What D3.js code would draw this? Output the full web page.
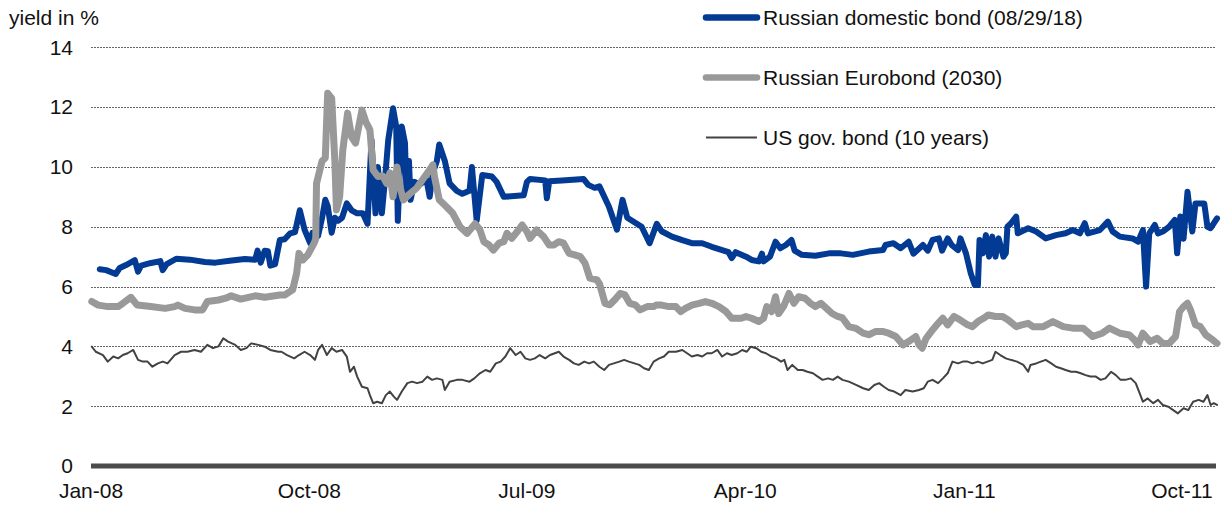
<!DOCTYPE html>
<html>
<head>
<meta charset="utf-8">
<script src="https://cdn.jsdelivr.net/npm/d3@7"></script>
<style>
  body { margin: 0; background: #fff; }
  svg { display: block; font-family: "Liberation Sans", Arial, sans-serif; }
</style>
</head>
<body>
<svg id="chart" width="1230" height="505"></svg>
<script>
// Russian domestic bond (08/29/18), yield in %
var domesticBond = [
  ["2008-01-12",6.58],["2008-01-20",6.55],["2008-02-01",6.42],["2008-02-06",6.62],["2008-02-14",6.72],
  ["2008-02-25",6.88],["2008-02-29",6.50],["2008-03-04",6.70],["2008-03-15",6.78],["2008-03-28",6.85],
  ["2008-03-31",6.55],["2008-04-05",6.75],["2008-04-17",6.93],["2008-05-04",6.90],["2008-05-23",6.82],
  ["2008-06-05",6.80],["2008-06-23",6.86],["2008-07-12",6.92],["2008-07-25",6.90],["2008-07-28",7.20],
  ["2008-08-01",6.80],["2008-08-06",7.20],["2008-08-10",7.18],["2008-08-13",6.70],["2008-08-19",6.75],
  ["2008-08-25",7.56],["2008-08-31",7.58],["2008-09-07",7.78],["2008-09-13",7.82],["2008-09-19",8.55],
  ["2008-09-25",7.90],["2008-10-02",7.45],["2008-10-05",7.80],["2008-10-12",7.70],["2008-10-17",8.30],
  ["2008-10-21",8.90],["2008-10-24",8.70],["2008-10-29",7.80],["2008-11-02",8.30],["2008-11-06",8.20],
  ["2008-11-11",8.30],["2008-11-17",8.78],["2008-11-23",8.55],["2008-11-30",8.45],["2008-12-07",8.45],
  ["2008-12-13",8.10],["2008-12-18",10.90],["2008-12-23",8.45],["2008-12-26",10.00],["2008-12-31",8.45],
  ["2009-01-04",9.60],["2009-01-08",10.90],["2009-01-14",11.96],["2009-01-18",11.35],["2009-01-20",8.20],
  ["2009-01-25",11.35],["2009-01-29",10.80],["2009-01-31",9.00],["2009-02-03",10.20],["2009-02-05",8.90],
  ["2009-02-10",9.50],["2009-02-16",9.40],["2009-02-25",9.57],["2009-03-01",9.00],["2009-03-05",9.80],
  ["2009-03-10",10.20],["2009-03-13",10.75],["2009-03-20",10.20],["2009-03-26",9.45],["2009-04-04",9.20],
  ["2009-04-11",9.10],["2009-04-20",9.20],["2009-04-23",10.00],["2009-04-29",8.20],["2009-05-06",9.73],
  ["2009-05-18",9.68],["2009-05-24",9.50],["2009-06-02",9.00],["2009-06-27",9.05],["2009-07-01",9.50],
  ["2009-07-05",9.60],["2009-07-24",9.55],["2009-07-26",8.95],["2009-07-29",9.52],["2009-08-14",9.55],
  ["2009-09-10",9.60],["2009-09-16",9.40],["2009-09-24",9.30],["2009-09-30",9.35],["2009-10-12",8.67],
  ["2009-10-22",7.90],["2009-10-29",8.90],["2009-11-04",8.30],["2009-11-22",8.00],["2009-12-02",7.45],
  ["2009-12-11",8.10],["2009-12-17",7.85],["2009-12-30",7.67],["2010-01-12",7.55],["2010-01-24",7.45],
  ["2010-02-06",7.45],["2010-02-18",7.33],["2010-03-03",7.22],["2010-03-11",7.15],["2010-03-15",6.95],
  ["2010-03-20",7.15],["2010-04-02",7.00],["2010-04-09",6.89],["2010-04-18",6.84],["2010-04-22",7.10],
  ["2010-04-24",6.84],["2010-05-02",7.00],["2010-05-09",7.50],["2010-05-15",7.28],["2010-05-22",7.39],
  ["2010-05-29",7.56],["2010-06-02",7.20],["2010-06-11",7.06],["2010-06-28",7.03],["2010-07-15",7.11],
  ["2010-07-30",7.11],["2010-08-14",7.06],["2010-09-03",7.17],["2010-09-21",7.22],["2010-09-24",7.39],
  ["2010-10-04",7.45],["2010-10-13",7.28],["2010-10-23",7.50],["2010-10-29",7.10],["2010-11-10",7.39],
  ["2010-11-16",7.20],["2010-11-22",7.56],["2010-11-30",7.61],["2010-12-04",7.20],["2010-12-11",7.61],
  ["2010-12-16",7.39],["2010-12-24",7.22],["2010-12-27",7.61],["2011-01-03",7.11],["2011-01-09",6.44],
  ["2011-01-14",6.05],["2011-01-18",6.05],["2011-01-20",7.56],["2011-01-24",7.11],["2011-01-28",7.72],
  ["2011-02-01",7.00],["2011-02-05",7.67],["2011-02-09",7.00],["2011-02-13",7.61],["2011-02-19",7.00],
  ["2011-02-22",7.11],["2011-02-24",8.00],["2011-02-28",8.10],["2011-03-07",8.34],["2011-03-09",7.78],
  ["2011-03-22",7.95],["2011-04-01",7.84],["2011-04-13",7.61],["2011-04-26",7.72],["2011-05-08",7.78],
  ["2011-05-17",7.89],["2011-05-26",7.78],["2011-06-01",8.12],["2011-06-05",7.78],["2011-06-20",7.89],
  ["2011-06-30",8.17],["2011-07-06",7.84],["2011-07-15",7.67],["2011-07-31",7.61],["2011-08-07",7.50],
  ["2011-08-13",7.89],["2011-08-17",6.00],["2011-08-21",7.78],["2011-08-28",8.06],["2011-09-01",7.78],
  ["2011-09-07",7.84],["2011-09-15",8.00],["2011-09-22",8.23],["2011-09-25",7.11],["2011-09-29",8.34],
  ["2011-10-03",7.60],["2011-10-08",9.17],["2011-10-14",7.84],["2011-10-18",8.78],["2011-10-29",8.78],
  ["2011-11-02",8.00],["2011-11-06",7.95],["2011-11-14",8.28]
];

// Russian Eurobond (2030)
var eurobond = [
  ["2008-01-02",5.50],["2008-01-10",5.38],["2008-01-22",5.33],["2008-02-04",5.33],["2008-02-10",5.44],
  ["2008-02-20",5.64],["2008-02-28",5.38],["2008-03-16",5.33],["2008-04-03",5.27],["2008-04-15",5.33],
  ["2008-04-19",5.38],["2008-04-28",5.27],["2008-05-10",5.22],["2008-05-20",5.22],["2008-05-26",5.50],
  ["2008-06-09",5.55],["2008-06-18",5.61],["2008-06-25",5.69],["2008-07-07",5.58],["2008-07-25",5.69],
  ["2008-08-06",5.64],["2008-08-25",5.72],["2008-08-31",5.72],["2008-09-10",5.89],["2008-09-15",6.44],
  ["2008-09-18",7.11],["2008-09-23",6.89],["2008-09-29",7.06],["2008-10-07",7.45],["2008-10-09",7.60],
  ["2008-10-10",9.45],["2008-10-17",10.20],["2008-10-21",10.30],["2008-10-24",12.46],["2008-10-29",12.30],
  ["2008-11-02",10.20],["2008-11-04",8.56],["2008-11-08",9.00],["2008-11-12",10.57],["2008-11-18",11.80],
  ["2008-11-23",11.00],["2008-11-28",10.80],["2008-12-06",11.90],["2008-12-11",11.50],["2008-12-16",11.24],
  ["2008-12-20",9.90],["2008-12-26",9.68],["2009-01-01",9.70],["2009-01-06",9.45],["2009-01-10",9.80],
  ["2009-01-14",9.00],["2009-01-19",10.00],["2009-01-23",9.30],["2009-01-27",8.90],["2009-02-04",9.10],
  ["2009-02-13",9.30],["2009-02-20",9.57],["2009-03-01",9.90],["2009-03-05",10.07],["2009-03-07",9.68],
  ["2009-03-13",8.90],["2009-03-22",8.67],["2009-03-30",8.45],["2009-04-08",8.00],["2009-04-17",7.78],
  ["2009-04-27",8.10],["2009-05-03",7.90],["2009-05-08",7.50],["2009-05-14",7.40],["2009-05-20",7.22],
  ["2009-05-27",7.45],["2009-06-02",7.50],["2009-06-06",7.78],["2009-06-12",7.61],["2009-06-19",7.84],
  ["2009-06-25",8.06],["2009-07-01",7.84],["2009-07-05",7.61],["2009-07-13",7.89],["2009-07-22",7.67],
  ["2009-07-29",7.39],["2009-08-04",7.39],["2009-08-10",7.50],["2009-08-16",7.45],["2009-08-23",7.11],
  ["2009-08-30",7.06],["2009-09-06",7.00],["2009-09-12",6.78],["2009-09-18",6.28],["2009-09-27",6.22],
  ["2009-09-30",6.10],["2009-10-07",5.44],["2009-10-13",5.39],["2009-10-19",5.55],["2009-10-26",5.77],
  ["2009-11-01",5.72],["2009-11-07",5.44],["2009-11-14",5.39],["2009-11-20",5.22],["2009-11-29",5.33],
  ["2009-12-07",5.33],["2009-12-10",5.38],["2009-12-17",5.38],["2009-12-26",5.33],["2010-01-04",5.33],
  ["2010-01-10",5.16],["2010-01-16",5.27],["2010-01-24",5.38],["2010-02-02",5.44],["2010-02-10",5.50],
  ["2010-02-18",5.44],["2010-02-27",5.33],["2010-03-08",5.16],["2010-03-15",4.94],["2010-03-27",4.94],
  ["2010-04-02",5.00],["2010-04-09",4.94],["2010-04-18",4.83],["2010-04-24",4.94],["2010-04-28",5.33],
  ["2010-05-04",5.16],["2010-05-09",5.66],["2010-05-13",5.10],["2010-05-19",5.33],["2010-05-26",5.77],
  ["2010-06-01",5.44],["2010-06-07",5.66],["2010-06-15",5.61],["2010-06-22",5.44],["2010-06-28",5.33],
  ["2010-07-05",5.44],["2010-07-12",5.27],["2010-07-19",5.10],["2010-07-26",5.00],["2010-08-01",4.95],
  ["2010-08-09",4.66],["2010-08-18",4.60],["2010-08-27",4.44],["2010-09-03",4.39],["2010-09-12",4.50],
  ["2010-09-20",4.50],["2010-09-28",4.44],["2010-10-07",4.33],["2010-10-16",4.05],["2010-10-23",4.16],
  ["2010-11-01",4.33],["2010-11-05",4.05],["2010-11-09",3.94],["2010-11-14",4.27],["2010-11-22",4.55],
  ["2010-11-29",4.77],["2010-12-05",4.94],["2010-12-11",4.72],["2010-12-19",5.00],["2010-12-27",4.88],
  ["2011-01-05",4.72],["2011-01-11",4.66],["2011-01-18",4.83],["2011-01-25",4.94],["2011-01-31",5.05],
  ["2011-02-09",5.00],["2011-02-18",5.00],["2011-02-25",4.88],["2011-03-07",4.66],["2011-03-14",4.72],
  ["2011-03-22",4.77],["2011-03-28",4.66],["2011-04-10",4.66],["2011-04-22",4.83],["2011-05-05",4.66],
  ["2011-05-17",4.61],["2011-05-30",4.61],["2011-06-11",4.33],["2011-06-23",4.44],["2011-07-02",4.61],
  ["2011-07-15",4.44],["2011-07-27",4.38],["2011-08-03",4.20],["2011-08-07",4.05],["2011-08-13",4.44],
  ["2011-08-22",4.16],["2011-08-31",4.27],["2011-09-07",4.10],["2011-09-15",4.10],["2011-09-23",4.33],
  ["2011-09-28",5.16],["2011-10-03",5.33],["2011-10-08",5.44],["2011-10-12",5.20],["2011-10-18",4.72],
  ["2011-10-24",4.66],["2011-10-31",4.38],["2011-11-06",4.27],["2011-11-14",4.10]
];

// US gov. bond (10 years)
var usBond = [
  ["2008-01-02",3.99],["2008-01-07",3.82],["2008-01-16",3.71],["2008-01-22",3.49],["2008-01-29",3.66],
  ["2008-02-04",3.60],["2008-02-10",3.71],["2008-02-16",3.77],["2008-02-23",3.88],["2008-02-29",3.55],
  ["2008-03-06",3.49],["2008-03-12",3.49],["2008-03-18",3.32],["2008-03-25",3.43],["2008-03-31",3.49],
  ["2008-04-06",3.43],["2008-04-15",3.71],["2008-04-23",3.82],["2008-05-01",3.82],["2008-05-10",3.88],
  ["2008-05-18",3.82],["2008-05-26",4.05],["2008-06-02",3.94],["2008-06-09",4.00],["2008-06-15",4.27],
  ["2008-06-21",4.16],["2008-06-30",4.05],["2008-07-07",3.88],["2008-07-14",3.94],["2008-07-20",4.10],
  ["2008-07-29",4.05],["2008-08-06",3.99],["2008-08-13",3.88],["2008-08-23",3.82],["2008-08-27",3.82],
  ["2008-09-03",3.71],["2008-09-12",3.60],["2008-09-18",3.71],["2008-09-25",3.82],["2008-10-02",3.71],
  ["2008-10-08",3.55],["2008-10-12",3.88],["2008-10-17",4.05],["2008-10-23",3.71],["2008-10-29",3.94],
  ["2008-11-04",3.82],["2008-11-11",3.88],["2008-11-17",3.66],["2008-11-21",3.15],["2008-11-26",3.32],
  ["2008-11-30",2.99],["2008-12-06",2.65],["2008-12-13",2.60],["2008-12-16",2.37],["2008-12-20",2.10],
  ["2008-12-25",2.15],["2008-12-31",2.10],["2009-01-05",2.37],["2009-01-10",2.49],["2009-01-15",2.32],
  ["2009-01-19",2.21],["2009-01-25",2.49],["2009-02-01",2.77],["2009-02-07",2.82],["2009-02-13",2.77],
  ["2009-02-20",2.82],["2009-02-26",2.99],["2009-03-04",2.88],["2009-03-10",2.93],["2009-03-17",2.88],
  ["2009-03-20",2.54],["2009-03-26",2.82],["2009-04-04",2.88],["2009-04-11",2.88],["2009-04-20",2.82],
  ["2009-04-26",2.93],["2009-05-03",3.10],["2009-05-10",3.21],["2009-05-16",3.15],["2009-05-23",3.43],
  ["2009-05-29",3.49],["2009-06-04",3.66],["2009-06-10",3.94],["2009-06-17",3.71],["2009-06-23",3.82],
  ["2009-06-29",3.60],["2009-07-05",3.55],["2009-07-11",3.60],["2009-07-17",3.71],["2009-07-24",3.60],
  ["2009-07-30",3.71],["2009-08-05",3.77],["2009-08-10",3.82],["2009-08-16",3.66],["2009-08-23",3.55],
  ["2009-08-29",3.43],["2009-09-04",3.38],["2009-09-11",3.49],["2009-09-17",3.43],["2009-09-23",3.49],
  ["2009-09-30",3.32],["2009-10-06",3.21],["2009-10-12",3.38],["2009-10-18",3.43],["2009-10-25",3.49],
  ["2009-10-31",3.55],["2009-11-06",3.49],["2009-11-13",3.43],["2009-11-19",3.38],["2009-11-25",3.27],
  ["2009-12-01",3.21],["2009-12-07",3.49],["2009-12-14",3.60],["2009-12-20",3.66],["2009-12-26",3.82],
  ["2010-01-04",3.82],["2010-01-12",3.88],["2010-01-18",3.77],["2010-01-24",3.66],["2010-01-31",3.71],
  ["2010-02-06",3.66],["2010-02-12",3.77],["2010-02-18",3.77],["2010-02-25",3.88],["2010-03-03",3.66],
  ["2010-03-09",3.77],["2010-03-15",3.71],["2010-03-22",3.77],["2010-03-28",3.88],["2010-04-03",3.82],
  ["2010-04-08",3.99],["2010-04-15",3.94],["2010-04-21",3.82],["2010-04-27",3.77],["2010-05-04",3.66],
  ["2010-05-10",3.60],["2010-05-16",3.49],["2010-05-20",3.55],["2010-05-24",3.21],["2010-05-30",3.38],
  ["2010-06-06",3.21],["2010-06-12",3.21],["2010-06-18",3.15],["2010-06-25",3.10],["2010-07-01",2.99],
  ["2010-07-07",2.88],["2010-07-14",2.93],["2010-07-20",2.88],["2010-07-26",2.99],["2010-08-01",2.88],
  ["2010-08-09",2.82],["2010-08-18",2.71],["2010-08-27",2.60],["2010-09-03",2.54],["2010-09-10",2.71],
  ["2010-09-16",2.77],["2010-09-22",2.65],["2010-09-28",2.54],["2010-10-05",2.49],["2010-10-13",2.37],
  ["2010-10-19",2.54],["2010-10-28",2.49],["2010-11-05",2.54],["2010-11-11",2.60],["2010-11-16",2.82],
  ["2010-11-22",2.88],["2010-11-29",2.77],["2010-12-05",2.93],["2010-12-11",3.10],["2010-12-17",3.49],
  ["2010-12-24",3.43],["2010-12-30",3.49],["2011-01-05",3.49],["2011-01-11",3.43],["2011-01-18",3.49],
  ["2011-01-24",3.43],["2011-01-30",3.49],["2011-02-05",3.55],["2011-02-09",3.82],["2011-02-15",3.71],
  ["2011-02-22",3.60],["2011-02-28",3.55],["2011-03-08",3.49],["2011-03-16",3.38],["2011-03-22",3.15],
  ["2011-03-25",3.38],["2011-04-01",3.43],["2011-04-07",3.49],["2011-04-13",3.55],["2011-04-20",3.43],
  ["2011-04-26",3.32],["2011-05-02",3.27],["2011-05-08",3.21],["2011-05-15",3.15],["2011-05-21",3.15],
  ["2011-05-27",3.10],["2011-06-02",3.04],["2011-06-08",2.99],["2011-06-15",2.99],["2011-06-21",2.88],
  ["2011-06-27",2.93],["2011-07-04",3.15],["2011-07-10",3.04],["2011-07-16",2.88],["2011-07-22",2.88],
  ["2011-07-29",2.93],["2011-08-04",2.77],["2011-08-09",2.43],["2011-08-13",2.15],["2011-08-19",2.26],
  ["2011-08-26",2.10],["2011-09-01",2.21],["2011-09-07",2.04],["2011-09-14",1.98],["2011-09-20",1.87],
  ["2011-09-26",1.76],["2011-10-03",1.93],["2011-10-09",1.87],["2011-10-15",2.15],["2011-10-22",2.21],
  ["2011-10-28",2.15],["2011-11-02",2.37],["2011-11-06",2.04],["2011-11-10",2.10],["2011-11-14",2.04]
];

var yTicks = [0, 2, 4, 6, 8, 10, 12, 14];
var xTickDates = ["2008-01-01", "2008-10-01", "2009-07-01", "2010-04-01", "2011-01-01", "2011-10-01"];
var xTickLabels = ["Jan-08", "Oct-08", "Jul-09", "Apr-10", "Jan-11", "Oct-11"];

var seriesNames = ["Russian domestic bond (08/29/18)", "Russian Eurobond (2030)", "US gov. bond (10 years)"];
var seriesColors = ["#023a94", "#999999", "#424242"];
var seriesWidths = [6, 7, 2];

var parse = d3.timeParse("%Y-%m-%d");

var x = d3.scaleTime()
    .domain([parse("2008-01-01"), parse("2011-11-14")])
    .range([91, 1217]);
var y = d3.scaleLinear()
    .domain([0, 14])
    .range([466, 47.3]);

var svg = d3.select("#chart");

// dotted gridlines
svg.append("g")
    .selectAll("line")
    .data(yTicks.filter(function (d) { return d > 0; }))
    .enter().append("line")
    .attr("x1", 91)
    .attr("x2", 1216)
    .attr("y1", function (d) { return Math.round(y(d)) + 0.5; })
    .attr("y2", function (d) { return Math.round(y(d)) + 0.5; })
    .style("stroke", "#666")
    .style("stroke-width", 1)
    .style("stroke-dasharray", "2,1");

// y labels
svg.append("g")
    .selectAll("text")
    .data(yTicks)
    .enter().append("text")
    .attr("x", 73)
    .attr("y", function (d) { return y(d); })
    .attr("dy", "0.35em")
    .attr("text-anchor", "end")
    .style("font-size", "21px")
    .style("fill", "#111")
    .text(function (d) { return d; });

svg.append("text")
    .attr("x", 9)
    .attr("y", 25)
    .style("font-size", "21px")
    .style("fill", "#111")
    .text("yield in %");

// x labels
svg.append("g")
    .selectAll("text")
    .data(xTickDates)
    .enter().append("text")
    .attr("x", function (d) { return x(parse(d)); })
    .attr("y", 498)
    .attr("text-anchor", "middle")
    .style("font-size", "21px")
    .style("fill", "#111")
    .text(function (d, i) { return xTickLabels[i]; });

var line = d3.line()
    .x(function (d) { return x(parse(d[0])); })
    .y(function (d) { return y(d[1]); });

[domesticBond, eurobond, usBond].forEach(function (data, i) {
    svg.append("path")
        .datum(data)
        .attr("d", line)
        .style("fill", "none")
        .style("stroke", seriesColors[i])
        .style("stroke-width", seriesWidths[i])
        .style("stroke-linejoin", "round")
        .style("stroke-linecap", "round");
});

// thick zero axis
svg.append("line")
    .attr("x1", 91)
    .attr("x2", 1216)
    .attr("y1", y(0))
    .attr("y2", y(0))
    .style("stroke", "#4d4a4a")
    .style("stroke-width", 5);

// legend
var legend = svg.append("g")
    .selectAll("g")
    .data(seriesNames)
    .enter().append("g")
    .attr("transform", function (d, i) { return "translate(0," + (17.5 + i * 60) + ")"; });
legend.append("line")
    .attr("x1", 706)
    .attr("x2", 757)
    .style("stroke", function (d, i) { return seriesColors[i]; })
    .style("stroke-width", function (d, i) { return seriesWidths[i] === 2 ? 2 : 6.5; })
    .style("stroke-linecap", function (d, i) { return seriesWidths[i] === 2 ? "butt" : "round"; });
legend.append("text")
    .attr("x", 763)
    .attr("y", 7.5)
    .style("font-size", "21px")
    .style("fill", "#111")
    .text(function (d) { return d; });
</script>
</body>
</html>
